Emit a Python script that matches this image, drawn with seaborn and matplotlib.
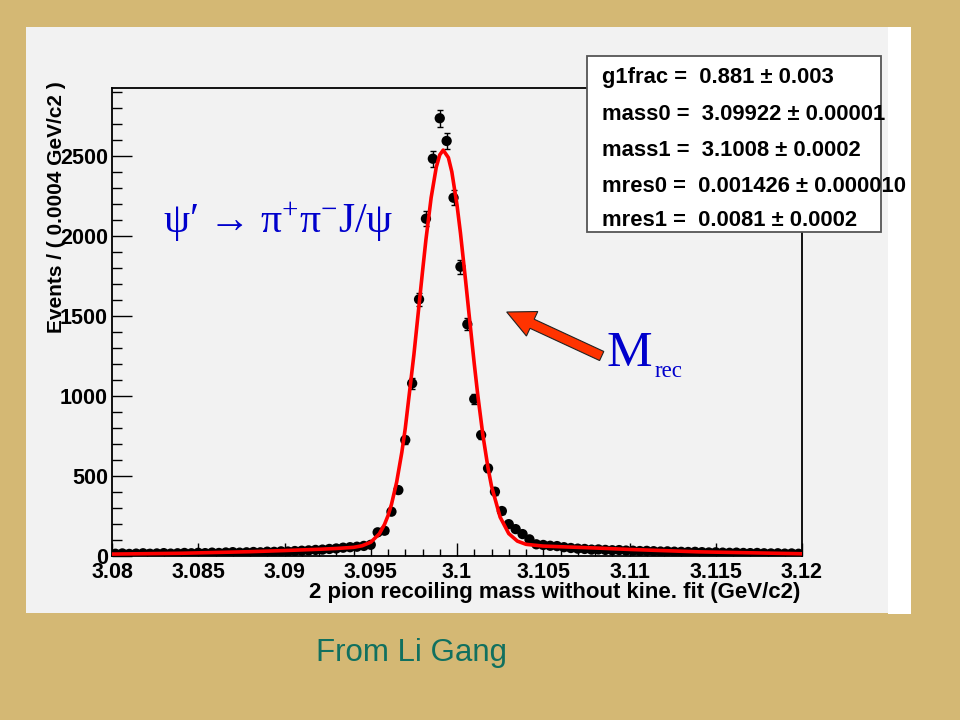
import numpy as np
import matplotlib
matplotlib.use("Agg")
import matplotlib.pyplot as plt
import seaborn as sns
from matplotlib.patches import Rectangle, FancyArrow
from matplotlib.ticker import MultipleLocator, FuncFormatter
from matplotlib.transforms import IdentityTransform

sns.set_theme(style="ticks")
plt.rcParams["font.family"] = ["Liberation Sans", "DejaVu Sans"]
plt.rcParams["mathtext.fontset"] = "custom"
plt.rcParams["mathtext.rm"] = "Liberation Serif"
plt.rcParams["mathtext.it"] = "Liberation Serif:italic"

# ----------------------------------------------------------------------------
# data: 2 pion recoiling mass histogram, 100 bins of 0.0004 GeV/c2
# ----------------------------------------------------------------------------
bin_lo, bin_width = 3.08, 0.0004
counts = [14, 16, 13, 15, 17, 14, 16, 18, 15, 17,
          19, 17, 20, 18, 21, 19, 22, 24, 21, 23,
          25, 23, 27, 26, 29, 28, 31, 33, 35, 38,
          40, 44, 47, 52, 55, 58, 63, 70,
          148, 158, 277, 412, 725, 1079, 1604, 2108, 2483, 2736,
          2594, 2239, 1808, 1448, 981, 756, 548, 402, 281, 199,
          168, 137, 104, 73, 69, 64, 62,
          55, 50, 46, 44, 40, 41, 38, 36, 37, 34,
          33, 31, 32, 30, 28, 29, 27, 26, 25, 26,
          24, 22, 23, 21, 20, 21, 19, 18, 19, 17,
          16, 17, 15, 16, 14]
mass = bin_lo + bin_width * (np.arange(len(counts)) + 0.5)

# fitted double-gaussian curve
fit_x = [3.080, 3.084, 3.088, 3.090, 3.092, 3.093, 3.094, 3.0945, 3.095,
         3.0955, 3.0958, 3.096, 3.0962, 3.0965, 3.0968, 3.097, 3.0975,
         3.0978, 3.098, 3.0982, 3.0985, 3.0988, 3.099, 3.0992, 3.0995,
         3.0997, 3.100, 3.1002, 3.1005, 3.1007, 3.101, 3.1012, 3.1015,
         3.1018, 3.102, 3.1025, 3.103, 3.1035, 3.104, 3.105, 3.106,
         3.108, 3.110, 3.114, 3.120]
fit_y = [12, 17, 27, 34, 42, 47, 54, 64, 86,
         139, 198, 252, 322, 461, 647, 797, 1257,
         1569, 1777, 1978, 2239, 2431, 2507, 2537, 2490,
         2401, 2194, 2019, 1719, 1510, 1202, 1010, 756,
         549, 437, 243, 140, 93, 73, 62, 58,
         50, 41, 26, 14]

# fit parameters shown in the stats box
par_names = ["g1frac", "mass0", "mass1", "mres0", "mres1"]
par_values = ["0.881", "3.09922", "3.1008", "0.001426", "0.0081"]
par_errors = ["0.003", "0.00001", "0.0002", "0.000010", "0.0002"]

W, H = 960, 720
def fx(px):
    return px / W
def fy(py):
    return 1 - py / H

fig = plt.figure(figsize=(9.6, 7.2), dpi=100)
fig.patch.set_facecolor("#d4b874")

# grey ROOT canvas + white strip on its right
fig.add_artist(Rectangle((fx(26), fy(613)), fx(888) - fx(26), (613 - 27) / H,
                         transform=fig.transFigure, facecolor="#f2f2f2",
                         edgecolor="none", zorder=-2))
fig.add_artist(Rectangle((fx(888), fy(614)), 23 / W, (614 - 27) / H,
                         transform=fig.transFigure, facecolor="white",
                         edgecolor="none", zorder=-2))

ax = fig.add_axes([fx(112), fy(556), (802 - 112) / W, (556 - 88) / H])
ax.set_facecolor("#f2f2f2")

ax.errorbar(mass, counts, yerr=np.sqrt(counts), fmt="none", ecolor="black",
            elinewidth=1.0, capsize=2.2, capthick=1.0, zorder=2)
sns.scatterplot(x=mass, y=counts, color="black", s=55, edgecolor="none",
                ax=ax, zorder=3, legend=False)
sns.lineplot(x=fit_x, y=fit_y, color="#ff0000", lw=2.6, ax=ax, zorder=4,
             legend=False)

ax.set_xlim(3.08, 3.12)
ax.set_ylim(0, 2925)
ax.xaxis.set_major_locator(MultipleLocator(0.005))
ax.xaxis.set_minor_locator(MultipleLocator(0.001))
ax.yaxis.set_major_locator(MultipleLocator(500))
ax.yaxis.set_minor_locator(MultipleLocator(100))
ax.xaxis.set_major_formatter(FuncFormatter(lambda v, p: f"{v:g}"))
ax.yaxis.set_major_formatter(FuncFormatter(lambda v, p: f"{v:g}"))

ax.tick_params(axis="x", which="major", direction="in", length=9.5, width=1,
               pad=4, labelsize=15.5, top=False, colors="black")
ax.tick_params(axis="x", which="minor", direction="in", length=5, width=1,
               top=False, colors="black")
ax.tick_params(axis="y", which="major", direction="in", length=14.5, width=1,
               pad=3, labelsize=15.5, right=False, colors="black")
ax.tick_params(axis="y", which="minor", direction="in", length=7.2, width=1,
               right=False, colors="black")
for lbl in ax.get_xticklabels() + ax.get_yticklabels():
    lbl.set_fontweight("bold")
for sp in ax.spines.values():
    sp.set_color("black")
    sp.set_linewidth(1.3)
    sp.set_visible(True)

ax.set_xlabel("2 pion recoiling mass without kine. fit (GeV/c2)",
              fontsize=16, fontweight="bold", loc="right", color="black")
ax.xaxis.set_label_coords(0.997, -0.079)
ax.xaxis.label.set_va("center")
ax.set_ylabel("Events / ( 0.0004 GeV/c2 )", fontsize=15, fontweight="bold",
              color="black")
ax.yaxis.set_label_coords(-0.08, 0.746)
ax.yaxis.label.set_va("center")

# stats box
fig.add_artist(Rectangle((fx(587), fy(232)), (881 - 587) / W, (232 - 56) / H,
                         transform=fig.transFigure, facecolor="white",
                         edgecolor="#555555", lw=1.3, zorder=5))
rows_y = [77, 115, 151, 186, 220]
for name, val, err, yy in zip(par_names, par_values, par_errors, rows_y):
    fig.text(fx(602), fy(yy), f"{name} =  {val} \u00b1 {err}", ha="left",
             va="center", fontsize=15.8, fontweight="bold", color="black",
             zorder=6)

# annotations
serif = ["Liberation Serif", "DejaVu Serif"]
fig.text(fx(163), fy(233), "\u03c8\u2032 \u2192 \u03c0$^{+}$\u03c0$^{-}$J/\u03c8",
         ha="left", va="baseline", fontsize=30, color="#0000cc",
         family=serif, zorder=6)
fig.text(fx(606), fy(366), "M", ha="left", va="baseline", fontsize=37,
         color="#0000cc", family=serif, zorder=6)
fig.text(fx(655), fy(377), "rec", ha="left", va="baseline", fontsize=16.5,
         color="#0000cc", family=serif, zorder=6)
fig.add_artist(FancyArrow(601.7, H - 356, -95, 44, width=10, head_width=27,
                          head_length=28, length_includes_head=True,
                          facecolor="#ff3300", edgecolor="#222222", lw=0.8,
                          transform=IdentityTransform(), zorder=6))

fig.text(fx(411), fy(653), "From Li Gang", ha="center", va="center",
         fontsize=22.5, color="#11705f")

fig.savefig("out.png", dpi=100, facecolor=fig.get_facecolor())
